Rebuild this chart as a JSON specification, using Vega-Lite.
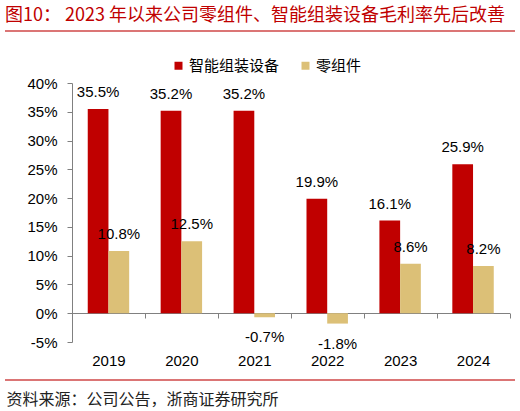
{
  "$schema": "https://vega.github.io/schema/vega-lite/v6.json",
  "autosize": "none",
  "padding": {"left": 5, "top": 31, "right": 5, "bottom": 31},
  "width": 510,
  "height": 349,
  "background": "white",
  "title": {
    "text": "图10：  2023 年以来公司零组件、智能组装设备毛利率先后改善",
    "anchor": "start",
    "frame": "group",
    "orient": "top",
    "baseline": "alphabetic",
    "offset": 11,
    "dy": 19,
    "font": "Noto Sans CJK SC",
    "fontSize": 18,
    "fontWeight": "normal",
    "color": "#C00000"
  },
  "data": {
    "values": [
      {"year": "2019", "series": "智能组装设备", "value": 0.355},
      {"year": "2019", "series": "零组件", "value": 0.108},
      {"year": "2020", "series": "智能组装设备", "value": 0.352},
      {"year": "2020", "series": "零组件", "value": 0.125},
      {"year": "2021", "series": "智能组装设备", "value": 0.352},
      {"year": "2021", "series": "零组件", "value": -0.007},
      {"year": "2022", "series": "智能组装设备", "value": 0.199},
      {"year": "2022", "series": "零组件", "value": -0.018},
      {"year": "2023", "series": "智能组装设备", "value": 0.161},
      {"year": "2023", "series": "零组件", "value": 0.086},
      {"year": "2024", "series": "智能组装设备", "value": 0.259},
      {"year": "2024", "series": "零组件", "value": 0.082}
    ]
  },
  "encoding": {
    "x": {
      "field": "year",
      "type": "nominal",
      "scale": {"range": [67, 504.5], "paddingInner": 0, "paddingOuter": 0},
      "axis": {
        "orient": "bottom",
        "offset": -67,
        "tickBand": "extent",
        "tickSize": 5,
        "tickColor": "#808080",
        "domainColor": "#808080",
        "labelAngle": 0,
        "labelPadding": 35,
        "labelFont": "Liberation Sans",
        "labelFontSize": 15,
        "labelColor": "#000000",
        "title": "资料来源：公司公告，浙商证券研究所",
        "titleX": 1,
        "titleY": 91,
        "titleAlign": "left",
        "titleAnchor": "start",
        "titleBaseline": "alphabetic",
        "titleFont": "Noto Sans CJK SC",
        "titleFontSize": 16,
        "titleFontWeight": "normal",
        "titleColor": "#222222"
      }
    },
    "xOffset": {
      "field": "series",
      "scale": {"domain": ["智能组装设备", "零组件"], "paddingInner": 0, "paddingOuter": 0.76}
    },
    "y": {
      "field": "value",
      "type": "quantitative",
      "scale": {"domain": [-0.05, 0.4], "range": [311, 52], "nice": false, "zero": false},
      "axis": {
        "offset": -67,
        "values": [-0.05, 0, 0.05, 0.1, 0.15, 0.2, 0.25, 0.3, 0.35, 0.4],
        "format": ".0%",
        "grid": false,
        "title": null,
        "tickSize": 5,
        "tickColor": "#808080",
        "domainColor": "#808080",
        "labelPadding": 10,
        "labelFont": "Liberation Sans",
        "labelFontSize": 15,
        "labelColor": "#000000"
      }
    }
  },
  "layer": [
    {
      "mark": {"type": "bar"},
      "encoding": {
        "color": {
          "field": "series",
          "type": "nominal",
          "scale": {"domain": ["智能组装设备", "零组件"], "range": ["#C00000", "#DCC077"]},
          "legend": {
            "orient": "none",
            "legendX": 166,
            "legendY": 27,
            "direction": "horizontal",
            "title": null,
            "padding": 0,
            "symbolType": "square",
            "symbolSize": 64,
            "symbolStrokeWidth": 0,
            "labelOffset": 3,
            "labelFont": "Noto Sans CJK SC",
            "labelFontSize": 15,
            "labelColor": "#000000",
            "columnPadding": 18
          }
        }
      }
    },
    {
      "transform": [{"filter": "datum.value >= 0"}],
      "mark": {"type": "text", "baseline": "alphabetic", "dy": -12, "font": "Liberation Sans", "fontSize": 15, "color": "#000000"},
      "encoding": {"text": {"field": "value", "type": "quantitative", "format": ".1%"}}
    },
    {
      "transform": [{"filter": "datum.value < 0"}],
      "mark": {"type": "text", "baseline": "alphabetic", "dy": 25, "font": "Liberation Sans", "fontSize": 15, "color": "#000000"},
      "encoding": {"text": {"field": "value", "type": "quantitative", "format": ".1%"}}
    }
  ],
  "config": {
    "view": {"stroke": "#D04848", "strokeWidth": 1.5, "strokeDash": [510, 349]},
    "locale": {
      "number": {"decimal": ".", "thousands": ",", "grouping": [3], "currency": ["$", ""], "minus": "-"}
    }
  }
}
